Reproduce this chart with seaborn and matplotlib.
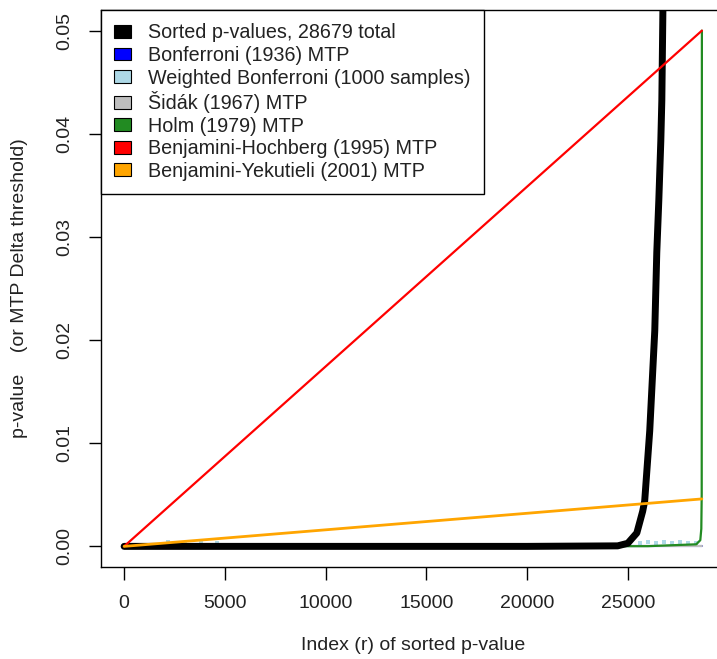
import numpy as np
import pandas as pd
import matplotlib
matplotlib.use('Agg')
import matplotlib.pyplot as plt
import seaborn as sns
from matplotlib.patches import Patch

# 読み取った値
n_total = 28679
alpha = 0.05

sorted_idx = [1, 5000, 10000, 15000, 20000, 24500, 25000, 25450, 25740, 25840,
              26090, 26340, 26440, 26540, 26640, 26690, 26750]
sorted_p = [0.0, 0.0, 0.0, 0.0, 0.0, 0.00005, 0.0003, 0.0013, 0.0034, 0.0044,
            0.0112, 0.0209, 0.0285, 0.0335, 0.0393, 0.0432, 0.053]

bonf_idx = [1, 28679]
bonf_p = [0.0000017, 0.0000017]
sidak_idx = [1, 28679]
sidak_p = [0.0000018, 0.0000018]

wbonf_idx = [2200, 3000, 3800, 4600, 25600, 26000, 26400, 26800, 27200, 27600, 28000, 28400]
wbonf_p = [0.0004, 0.0003, 0.0004, 0.0003, 0.0003, 0.0004, 0.0003, 0.0004,
           0.0003, 0.0004, 0.0003, 0.0003]

holm_idx = [1, 20000, 26000, 28400, 28600, 28650, 28670, 28679]
holm_p = [0.0000017, 0.000006, 0.00002, 0.0002, 0.0006, 0.0017, 0.005, 0.05]

bh_idx = [1, 28679]
bh_p = [0.0000017, 0.05]
by_idx = [1, 28679]
by_p = [0.00000016, 0.0046]

labels = ['Sorted p-values, 28679 total', 'Bonferroni (1936) MTP',
          'Weighted Bonferroni (1000 samples)', 'Šidák (1967) MTP',
          'Holm (1979) MTP', 'Benjamini-Hochberg (1995) MTP',
          'Benjamini-Yekutieli (2001) MTP']
colors = ['#000000', '#0000FF', '#ADD8E6', '#BEBEBE', '#228B22', '#FF0000', '#FFA500']

sns.set_style('white')
plt.rcParams['font.family'] = ['Liberation Sans', 'DejaVu Sans']

fig = plt.figure(figsize=(7.17, 6.59), dpi=100)
ax = fig.add_axes([101 / 717, 92 / 659, 624 / 717, 557 / 659])

sns.lineplot(x=bonf_idx, y=bonf_p, ax=ax, color=colors[1], lw=1.5)
sns.lineplot(x=sidak_idx, y=sidak_p, ax=ax, color=colors[3], lw=1.5)
sns.scatterplot(x=wbonf_idx, y=wbonf_p, ax=ax, color=colors[2], marker='s',
                s=5, linewidth=0)
sns.lineplot(x=holm_idx, y=holm_p, ax=ax, color=colors[4], lw=1.6)
sns.lineplot(x=sorted_idx, y=sorted_p, ax=ax, color=colors[0], lw=5,
             solid_capstyle='round')
sns.lineplot(x=bh_idx, y=bh_p, ax=ax, color=colors[5], lw=1.6)
sns.lineplot(x=by_idx, y=by_p, ax=ax, color=colors[6], lw=2)

ax.set_xlim(-1146, 29826)
ax.set_ylim(-0.002, 0.052)
ax.set_xticks([0, 5000, 10000, 15000, 20000, 25000])
ax.set_xticklabels(['0', '5000', '10000', '15000', '20000', '25000'])
yt = [0.0, 0.01, 0.02, 0.03, 0.04, 0.05]
ax.set_yticks(yt)
ax.set_yticklabels(['%.2f' % v for v in yt], rotation=90, va='center')
ax.tick_params(axis='both', direction='out', length=9, width=1, pad=11,
               labelsize=14, colors='black', labelcolor='#222222')
ax.tick_params(axis='x', bottom=True)
ax.tick_params(axis='y', left=True)
for sp in ax.spines.values():
    sp.set_visible(True)
    sp.set_color('black')
    sp.set_linewidth(1)

ax.set_xlabel('Index (r) of sorted p-value', fontsize=14, color='#222222', labelpad=18)
ax.set_ylabel('p-value    (or MTP Delta threshold)', fontsize=14, color='#222222',
              labelpad=20)

# 凡例（R風の四角）
handles = [Patch(facecolor=c, edgecolor='black', linewidth=0.8) for c in colors]
leg = ax.legend(handles, labels, loc='upper left', bbox_to_anchor=(0, 1),
                fontsize=14.2, frameon=True, fancybox=False, edgecolor='black',
                framealpha=1, borderaxespad=0, handlelength=0.82,
                handleheight=0.62, handletextpad=0.9, labelspacing=0.18,
                borderpad=0.68)
leg.get_frame().set_linewidth(1)
for t in leg.get_texts():
    t.set_color('#222222')

fig.savefig('out.png', dpi=100)
